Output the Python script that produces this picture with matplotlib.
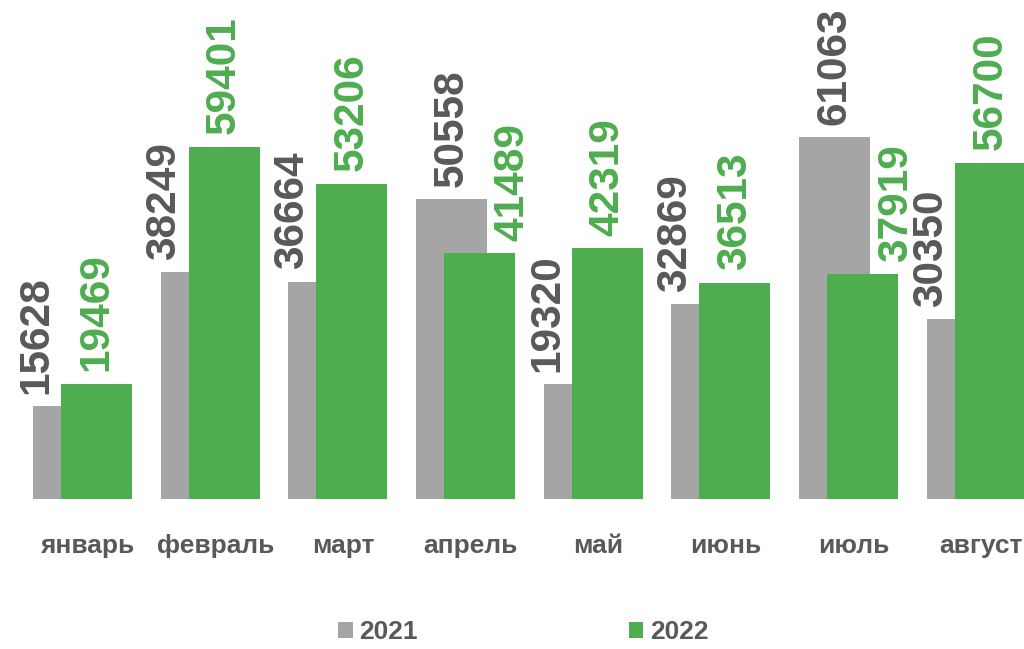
import matplotlib.pyplot as plt
import numpy as np

plt.rcParams['font.family'] = ['Liberation Sans', 'DejaVu Sans']

months = ["январь", "февраль", "март", "апрель", "май", "июнь", "июль", "август"]
v2021 = [15628, 38249, 36664, 50558, 19320, 32869, 61063, 30350]
v2022 = [19469, 59401, 53206, 41489, 42319, 36513, 37919, 56700]

grey = "#A5A5A5"
green = "#4EAD4F"
text_col = "#595959"

fig = plt.figure(figsize=(10.24, 6.49), dpi=100)
ax = fig.add_axes([0, 0.2311, 1, 0.7689])

x = np.arange(len(months))
w = 0.556
off = 0.219
xg = x - off / 2
xn = x + off / 2

ax.bar(xg, v2021, w, color=grey, label="2021", zorder=2)
ax.bar(xn, v2022, w, color=green, label="2022", zorder=3)

# data labels: moved aside when the other bar is taller
lab_kw = dict(rotation=90, ha="center", va="bottom", fontsize=30.5,
              fontweight="bold", textcoords="offset points")
for i in range(len(months)):
    a, b = v2021[i], v2022[i]
    if a >= b:
        ga = xg[i]
        gb = xn[i] + w / 2 - 0.02
    else:
        ga = xg[i] - w / 2 + 0.03
        gb = xn[i]
    ax.annotate(str(a), (ga, a), xytext=(0, 9), color=text_col, **lab_kw)
    ax.annotate(str(b), (gb, b), xytext=(0, 9), color=green, **lab_kw)

ax.set_xlim(-0.646, 7.373)
ax.set_ylim(0, 84180)
ax.set_xticks(x + 0.04)
ax.set_xticklabels(months, fontsize=19, fontweight="bold", color=text_col)
ax.tick_params(axis="x", length=0, pad=25)
ax.set_yticks([])
for s in ax.spines.values():
    s.set_visible(False)

fig.legend(loc="center", bbox_to_anchor=(0.511, 0.026), ncol=2, frameon=False,
           prop={"size": 19, "weight": "bold"}, labelcolor=text_col,
           handlelength=0.55, handleheight=0.55, handletextpad=0.25,
           columnspacing=8.0, borderpad=0.1)

plt.savefig("out.png", dpi=100)
